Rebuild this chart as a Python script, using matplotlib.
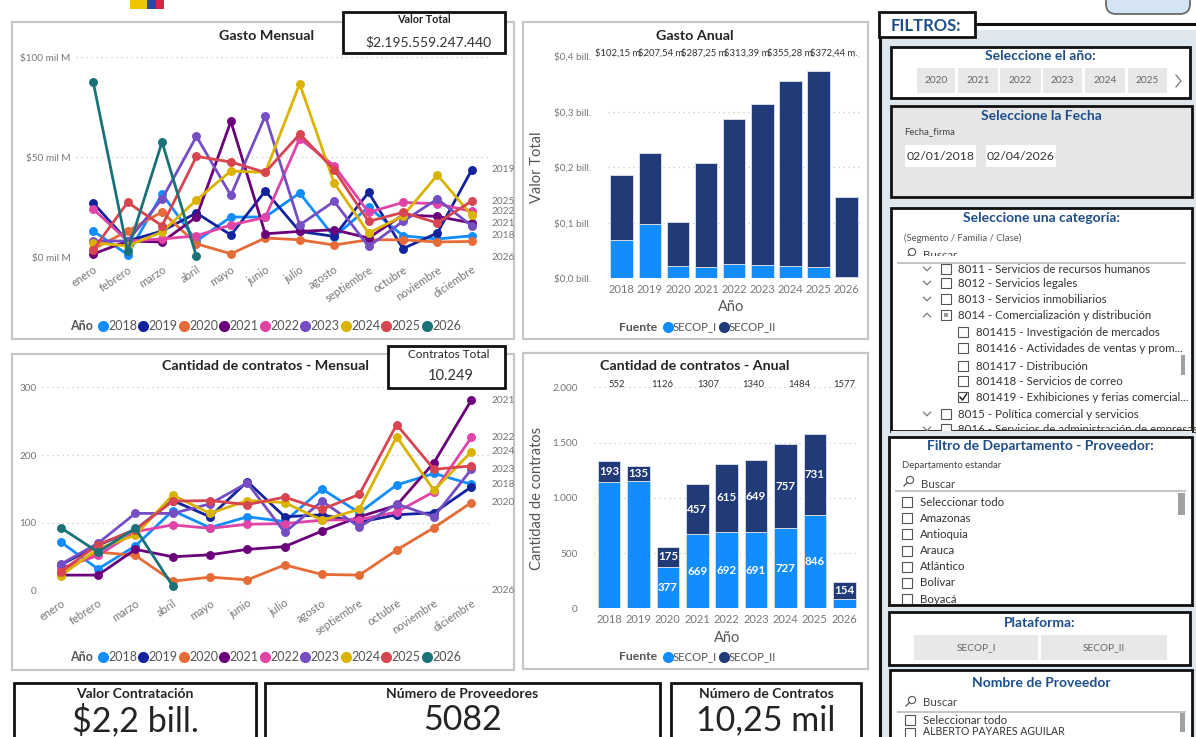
import numpy as np
import matplotlib
matplotlib.use('Agg')
import matplotlib.pyplot as plt
from matplotlib.patches import Rectangle, FancyBboxPatch, Circle

W, H = 1196, 737
plt.rcParams['font.family'] = ['Lato', 'DejaVu Sans']

# ---------------- data ----------------
meses = ['enero', 'febrero', 'marzo', 'abril', 'mayo', 'junio', 'julio',
         'agosto', 'septiembre', 'octubre', 'noviembre', 'diciembre']
anios = ['2018', '2019', '2020', '2021', '2022', '2023', '2024', '2025', '2026']
colores_anio = ['#118DFF', '#12239E', '#E66C37', '#6B007B', '#E044A7',
                '#744EC2', '#D9B300', '#D64550', '#197278']

# Gasto mensual (mil M)
gasto_2018 = [13, 1.2, 31.5, 8, 20, 20, 32, 10, 25, 10.6, 9, 10.6]
gasto_2019 = [27, 8, 13, 22, 11, 33, 12.8, 10.3, 32.3, 4.2, 12, 43.6]
gasto_2020 = [4, 13, 22.5, 6.6, 1.6, 9.5, 8.6, 6, 8.6, 8.6, 7.5, 7.8]
gasto_2021 = [1.5, 8, 7.5, 20, 67.8, 11.6, 12.8, 13.6, 9.5, 21, 20.3, 17]
gasto_2022 = [24, 8, 9, 10.6, 16, 19.8, 59.2, 45.6, 22.3, 27.3, 26.6, 22.8]
gasto_2023 = [8, 8, 29, 60.3, 30.8, 70.6, 16, 27.8, 5.3, 17.8, 29, 15.5]
gasto_2024 = [7, 5.6, 12.5, 28.5, 43, 42.3, 86.6, 37, 12, 20.5, 41, 20.8]
gasto_2025 = [3.6, 27.3, 15.6, 50.3, 47.5, 42.3, 61.5, 43.6, 17.8, 22.3, 17, 28]
gasto_2026 = [87.5, 2.8, 57.5, 0.3]
etiquetas_gasto = ['2019', '2025', '2022', '2021', '2018', '2026']

# Cantidad de contratos mensual
contratos_2018 = [72, 32, 66, 118, 93, 109, 102, 150, 115, 156, 173, 157]
contratos_2019 = [38, 67, 90, 133, 109, 161, 109, 112, 101, 112, 115, 153]
contratos_2020 = [28, 57, 52, 14, 20, 16, 38, 24, 23, 60, 93, 130]
contratos_2021 = [23, 23, 61, 50, 53, 61, 65, 88, 109, 126, 189, 281]
contratos_2022 = [33, 52, 87, 97, 92, 98, 99, 104, 105, 116, 146, 226]
contratos_2023 = [39, 70, 114, 114, 128, 159, 86, 132, 94, 128, 109, 179]
contratos_2024 = [22, 62, 82, 141, 114, 133, 130, 104, 120, 227, 148, 205]
contratos_2025 = [28, 68, 90, 132, 133, 127, 138, 120, 142, 245, 179, 184]
contratos_2026 = [93, 57, 92, 7]
etiquetas_contratos = ['2021', '2022', '2024', '2023', '2018', '2020', '2026']

# Anual por fuente
fuentes = ['SECOP_I', 'SECOP_II']
colores_fuente = ['#118DFF', '#213A78']
valor_secop_i = [69, 98, 23, 21, 26, 24, 23, 20, 2.5]            # mil M
valor_secop_ii = [117, 127, 79.15, 186.54, 261.25, 289.39, 332.28, 352.44, 143.5]
contratos_secop_i = [1140, 1155, 377, 669, 692, 691, 727, 846, 86]
contratos_secop_ii = [193, 135, 175, 457, 615, 649, 757, 731, 154]
anios_total_visible = ['2020', '2021', '2022', '2023', '2024', '2025']
anios_secop_i_etiqueta = ['2020', '2021', '2022', '2023', '2024', '2025']

# KPIs
valor_total_txt = '$2.195.559.247.440'
contratos_total_txt = '10.249'
kpi_titulos = ['Valor Contratación', 'Número de Proveedores', 'Número de Contratos']
kpi_valores = ['$2,2 bill.', '5082', '10,25 mil']

# ---------------- figure ----------------
fig = plt.figure(figsize=(W / 100, H / 100), dpi=100)
fig.patch.set_facecolor('white')

def overlay(z):
    a = fig.add_axes([0, 0, 1, 1], zorder=z)
    a.set_xlim(0, W)
    a.set_ylim(H, 0)
    a.axis('off')
    a.patch.set_alpha(0)
    return a

bg = overlay(0)
fg = overlay(10)

def rect(ax, x0, y0, x1, y1, fc='none', ec='none', lw=0, z=1, **kw):
    p = Rectangle((x0, y0), x1 - x0, y1 - y0, facecolor=fc, edgecolor=ec,
                  linewidth=lw, zorder=z, **kw)
    ax.add_patch(p)
    return p

def txt(ax, x, y, s, size=8, color='#333333', weight='normal', ha='left',
        va='center', z=3, **kw):
    return ax.text(x, y, s, fontsize=size, color=color, fontweight=weight,
                   ha=ha, va=va, zorder=z, **kw)

def axes_px(x0, y0, x1, y1):
    a = fig.add_axes([x0 / W, 1 - y1 / H, (x1 - x0) / W, (y1 - y0) / H], zorder=2)
    a.patch.set_alpha(0)
    for s in a.spines.values():
        s.set_visible(False)
    a.tick_params(length=0)
    return a

GRID = '#C8C8C8'
TICK = '#777777'
TITLE = '#252423'
BLUE_T = '#1D4E89'

# panel frames
for (x0, y0, x1, y1) in [(12, 22, 514, 339), (523, 22, 868, 339),
                         (12, 354, 514, 670), (523, 353, 868, 669)]:
    rect(bg, x0, y0, x1, y1, fc='white', ec='#C6C6C6', lw=1.6)

# small decorations at top
rect(bg, 130, -2, 147, 9, fc='#F2C500')
rect(bg, 147, -2, 156, 9, fc='#2A4B9B')
rect(bg, 156, -2, 164, 9, fc='#D7263D')
bg.add_patch(FancyBboxPatch((1106, -14), 84, 28, boxstyle='round,pad=0,rounding_size=10',
                            facecolor='#D5E5F5', edgecolor='#6A6A6A', lw=1.3, zorder=2))

# ---------------- line charts ----------------
def line_chart(ax, series, ymax, yticks, ytlabels, etiquetas, x0, x1):
    for vals, col in zip(series, colores_anio):
        x = np.arange(len(vals))
        ax.plot(x, vals, color=col, lw=2.0, marker='o', ms=5.4, clip_on=False,
                solid_joinstyle='round', zorder=3)
    ax.set_xlim(-0.5, 11.5)
    ax.set_ylim(0, ymax)
    for t in yticks:
        ax.axhline(t, color=GRID, lw=0.9, ls=(0, (1, 3)), zorder=0)
    ax.set_yticks(yticks)
    ax.set_yticklabels(ytlabels, fontsize=7.2, color=TICK)
    ax.set_xticks(range(12))
    ax.set_xticklabels(meses, rotation=34, ha='right', rotation_mode='anchor',
                       fontsize=8, color=TICK)
    ax.tick_params(axis='x', pad=5)
    ax.tick_params(axis='y', pad=4)
    xf = (492 - x0) / (x1 - x0)
    tr = ax.get_yaxis_transform()
    for yr in etiquetas:
        vals = series[anios.index(yr)]
        yv = vals[-1] if len(vals) == 12 else 0
        ax.text(xf, yv, yr, transform=tr, fontsize=7.3, color=TICK, ha='left',
                va='center', clip_on=False)

def line_legend(y):
    txt(bg, 70, y, 'Año', size=9, color='#555555', weight='bold')
    for i, (yr, col) in enumerate(zip(anios, colores_anio)):
        xm = 102.5 + i * 40.5
        bg.plot([xm], [y], marker='o', ms=7, color=col, zorder=3)
        txt(bg, xm + 5.5, y, yr, size=9, color='#555555')

gm_x0, gm_x1 = 76, 489
ax1 = axes_px(gm_x0, 57, gm_x1, 257)
line_chart(ax1, [gasto_2018, gasto_2019, gasto_2020, gasto_2021, gasto_2022,
                 gasto_2023, gasto_2024, gasto_2025, gasto_2026],
           100, [0, 50, 100], ['$0 mil M', '$50 mil M', '$100 mil M'],
           etiquetas_gasto, gm_x0, gm_x1)
txt(bg, 267, 36, 'Gasto Mensual', size=10.3, color=TITLE, weight='bold', ha='center')
line_legend(326)

cm_x0, cm_x1 = 42, 490
ax3 = axes_px(cm_x0, 387.3, cm_x1, 590.7)
line_chart(ax3, [contratos_2018, contratos_2019, contratos_2020, contratos_2021,
                 contratos_2022, contratos_2023, contratos_2024, contratos_2025,
                 contratos_2026],
           300, [0, 100, 200, 300], ['0', '100', '200', '300'],
           etiquetas_contratos, cm_x0, cm_x1)
txt(bg, 265, 366, 'Cantidad de contratos - Mensual', size=10.3, color=TITLE,
    weight='bold', ha='center')
line_legend(657)

# ---------------- bar charts ----------------
def bar_chart(ax, s1, s2, ymax, yticks, ytlabels, width, ypad):
    x = np.arange(len(anios))
    ax.bar(x, s1, width=width, color=colores_fuente[0], edgecolor='#D3DAE6',
           lw=0.7, zorder=2)
    ax.bar(x, s2, bottom=s1, width=width, color=colores_fuente[1],
           edgecolor='#D3DAE6', lw=0.7, zorder=2)
    ax.set_xlim(-0.5, len(anios) - 0.5)
    ax.set_ylim(0, ymax)
    for t in yticks:
        ax.axhline(t, color=GRID, lw=0.9, ls=(0, (1, 3)), zorder=0)
    ax.set_yticks(yticks)
    ax.set_yticklabels(ytlabels, fontsize=7.2, color=TICK)
    ax.set_xticks(x)
    ax.set_xticklabels(anios, fontsize=8, color=TICK)
    ax.tick_params(axis='x', pad=4)
    ax.tick_params(axis='y', pad=ypad)

def fuente_legend(y):
    txt(bg, 619, y, 'Fuente', size=8.8, color='#555555', weight='bold')
    for xm, f, c in zip([668, 724], fuentes, colores_fuente):
        bg.plot([xm], [y], marker='o', ms=7, color=c, zorder=3)
        txt(bg, xm + 5, y, f, size=8.2, color='#555555')

# Gasto anual
ga_x0, ga_x1 = 607.6, 860.8
ax2 = axes_px(ga_x0, 56, ga_x1, 278.3)
bar_chart(ax2, valor_secop_i, valor_secop_ii, 400, [0, 100, 200, 300, 400],
          ['$0,0 bill.', '$0,1 bill.', '$0,2 bill.', '$0,3 bill.', '$0,4 bill.'],
          0.8, 12)
tot_valor = [a + b for a, b in zip(valor_secop_i, valor_secop_ii)]
vis = [anios.index(a) for a in anios_total_visible]
for k, i in enumerate(vis):
    xf = np.linspace(0.045, 0.895, len(vis))[k]
    s = '$' + f'{tot_valor[i]:.2f}'.replace('.', ',') + ' m.'
    ax2.text(xf, 1.014, s, transform=ax2.transAxes, fontsize=6.8, color='#333333',
             ha='center', va='center', clip_on=False)
txt(bg, 695, 36, 'Gasto Anual', size=10.3, color=TITLE, weight='bold', ha='center')
txt(bg, 537, 167, 'Valor Total', size=10.5, color='#555555', ha='center', rotation=90)
txt(bg, 731, 307, 'Año', size=10.5, color='#555555', ha='center')
fuente_legend(327)

# Contratos anual
ca_x0, ca_x1 = 594.3, 859
ax4 = axes_px(ca_x0, 387.3, ca_x1, 608.3)
bar_chart(ax4, contratos_secop_i, contratos_secop_ii, 2000,
          [0, 500, 1000, 1500, 2000], ['0', '500', '1.000', '1.500', '2.000'],
          0.77, 12)
tot_c = [a + b for a, b in zip(contratos_secop_i, contratos_secop_ii)]
for k, i in enumerate(vis):
    xf = np.linspace(0.085, 0.945, len(vis))[k]
    ax4.text(xf, 1.014, f'{tot_c[i]}', transform=ax4.transAxes, fontsize=6.8,
             color='#333333', ha='center', va='center', clip_on=False)
for i in range(len(anios)):
    ax4.text(i, contratos_secop_i[i] + contratos_secop_ii[i] / 2,
             f'{contratos_secop_ii[i]}', ha='center', va='center', fontsize=8.3,
             fontweight='bold', color='white', zorder=4)
    if anios[i] in anios_secop_i_etiqueta:
        ax4.text(i, contratos_secop_i[i] / 2, f'{contratos_secop_i[i]}',
                 ha='center', va='center', fontsize=8.3, fontweight='bold',
                 color='white', zorder=4)
txt(bg, 695, 366, 'Cantidad de contratos - Anual', size=10.3, color=TITLE,
    weight='bold', ha='center')
txt(bg, 537, 498, 'Cantidad de contratos', size=10.5, color='#555555', ha='center',
    rotation=90)
txt(bg, 727, 638, 'Año', size=10.5, color='#555555', ha='center')
fuente_legend(657)

# ---------------- KPI cards ----------------
rect(fg, 343, 12, 505, 53, fc='white', ec='#111111', lw=2)
txt(fg, 424, 19, 'Valor Total', size=7.8, color='#252423', weight='bold', ha='center', z=11)
txt(fg, 428, 42, valor_total_txt, size=10, color='#333333', ha='center', z=11)

rect(fg, 388, 346, 505, 388, fc='white', ec='#111111', lw=2)
txt(fg, 449, 354, 'Contratos Total', size=8.5, color='#252423', ha='center', z=11)
txt(fg, 451, 376, contratos_total_txt, size=10.5, color='#333333', ha='center', z=11)

for (x0, x1), t, v in zip([(14, 256), (265, 660), (671, 861)], kpi_titulos, kpi_valores):
    rect(bg, x0, 683, x1, 745, fc='white', ec='#111111', lw=2)
    txt(bg, (x0 + x1) / 2, 694, t, size=10, color='#252423', weight='bold', ha='center')
    txt(bg, (x0 + x1) / 2, 720.5, v, size=24.5, color='#252423', weight='normal',
        ha='center')

# ---------------- filter panel ----------------
rect(bg, 881, 30, W + 2, H + 2, fc='#DEE6EE')
bg.plot([880, 880], [37, H + 2], color='#111111', lw=2.2, zorder=4)
bg.plot([975, W + 2], [24, 24], color='#111111', lw=2.2, zorder=4)
rect(bg, 879, 12, 975, 37, fc='white', ec='#111111', lw=2, z=4)
txt(bg, 891, 26, 'FILTROS:', size=12, color=BLUE_T, weight='bold', z=5)

def filt_box(x0, y0, x1, y1, title, ty, fc='white'):
    rect(bg, x0, y0, x1, y1, fc=fc, ec='#111111', lw=2, z=2)
    txt(bg, (x0 + x1) / 2, ty, title, size=10, color=BLUE_T, weight='bold', ha='center')

def checkbox(x, y, state=0):
    rect(bg, x, y - 5, x + 10, y + 5, fc='white', ec='#555555', lw=0.8, z=3)
    if state == 1:
        bg.plot([x + 2, x + 4.5, x + 8.5], [y, y + 3, y - 3], color='#222222', lw=1.1, zorder=4)
    if state == 2:
        rect(bg, x + 3, y - 2, x + 7, y + 2, fc='#9A9A9A', z=4)

def chevron(x, y, up=False):
    d = -1 if up else 1
    bg.plot([x - 3.5, x, x + 3.5], [y - 1.8 * d, y + 1.8 * d, y - 1.8 * d],
            color='#777777', lw=0.9, zorder=4)

def search(x, y):
    bg.add_patch(Circle((x + 2, y - 2), 3.6, fill=False, ec='#555555', lw=0.8, zorder=4))
    bg.plot([x - 0.6, x - 4], [y + 0.6, y + 4], color='#555555', lw=0.9, zorder=4)

# year slicer
filt_box(891, 47, 1190, 98, 'Seleccione el año:', 56)
for (bx0, bx1), yr in zip([(917, 955), (958, 998), (1000, 1041), (1043, 1082),
                           (1085, 1125), (1128, 1167)], anios[2:8]):
    rect(bg, bx0, 68, bx1, 93, fc='#E8E8E8', z=3)
    txt(bg, (bx0 + bx1) / 2, 80.5, yr, size=7.3, color='#666666', ha='center')
bg.plot([1176, 1181, 1176], [75, 81, 87], color='#777777', lw=0.9, zorder=4)

# date slicer
filt_box(891, 106, 1192, 197, 'Seleccione la Fecha', 116, fc='#E6E6E6')
txt(bg, 904, 132, 'Fecha_firma', size=6.8, color='#444444')
for (bx0, bx1), d in zip([(905, 976), (986, 1056)], ['02/01/2018', '02/04/2026']):
    rect(bg, bx0, 145, bx1, 167, fc='white', z=3)
    txt(bg, (bx0 + bx1) / 2, 156, d, size=8.8, color='#333333', ha='center')

# category slicer
filt_box(891, 208, 1192, 431, 'Seleccione una categoría:', 218)
txt(bg, 904, 238, '(Segmento / Familia / Clase)', size=6.8, color='#555555')
search(910, 254)
txt(bg, 923, 255, 'Buscar', size=8.3, color='#444444')
clip_cat = rect(bg, 893, 263, 1190, 430, fc='none', z=0)
cat_items = [
    (269, 0, '8011 - Servicios de recursos humanos', 'd', 0),
    (283, 0, '8012 - Servicios legales', 'd', 0),
    (299, 0, '8013 - Servicios inmobiliarios', 'd', 0),
    (315, 0, '8014 - Comercialización y distribución', 'u', 2),
    (332, 1, '801415 - Investigación de mercados', None, 0),
    (348, 1, '801416 - Actividades de ventas y prom...', None, 0),
    (366, 1, '801417 - Distribución', None, 0),
    (381, 1, '801418 - Servicios de correo', None, 0),
    (397, 1, '801419 - Exhibiciones y ferias comercial...', None, 1),
    (414, 0, '8015 - Política comercial y servicios', 'd', 0),
    (429, 0, '8016 - Servicios de administración de empresas', 'd', 0),
]
for y, lvl, s, chev, st in cat_items:
    if lvl == 0:
        cx, tx = 941, 958
        if chev:
            chevron(927, y, up=(chev == 'u'))
    else:
        cx, tx = 958, 976
    checkbox(cx, y, st)
    t = txt(bg, tx, y, s, size=8.3, color='#333333')
    t.set_clip_path(clip_cat)
rect(bg, 893, 256, 1190, 263, fc='white', z=5)
bg.plot([898, 1185], [263, 263], color='#C0C0C0', lw=1.3, zorder=6)
rect(bg, 1181, 355, 1185, 375, fc='#A0A0A0', z=6)
rect(bg, 891, 431, 1192, 436, fc='#DEE6EE', z=6)

# department slicer
filt_box(889, 437, 1192, 605, 'Filtro de Departamento - Proveedor:', 446)
txt(bg, 902, 465, 'Departamento estandar', size=6.8, color='#444444')
search(908, 482)
txt(bg, 921, 484, 'Buscar', size=8.3, color='#444444')
bg.plot([896, 1185], [491, 491], color='#C0C0C0', lw=1.3, zorder=5)
clip_dep = rect(bg, 891, 492, 1190, 603, fc='none', z=0)
deps = ['Seleccionar todo', 'Amazonas', 'Antioquia', 'Arauca', 'Atlántico', 'Bolívar', 'Boyacá']
for k, d in enumerate(deps):
    y = 502 + k * 16.2
    checkbox(902, y)
    t = txt(bg, 920, y, d, size=8.3, color='#333333')
    t.set_clip_path(clip_dep)
rect(bg, 889, 604, 1192, 611, fc='#DEE6EE', z=6)
bg.plot([889, 1192], [605, 605], color='#111111', lw=2, zorder=7)
rect(bg, 1178, 493, 1185, 515, fc='#A0A0A0', z=6)

# platform slicer
filt_box(889, 612, 1190, 665, 'Plataforma:', 623)
for (bx0, bx1), f in zip([(914, 1038), (1041, 1167)], fuentes):
    rect(bg, bx0, 635, bx1, 660, fc='#E8E8E8', z=3)
    txt(bg, (bx0 + bx1) / 2, 648, f, size=7.3, color='#666666', ha='center')

# provider slicer
filt_box(890, 670, 1192, 760, 'Nombre de Proveedor', 683)
search(910, 702)
txt(bg, 923, 703, 'Buscar', size=8.3, color='#444444')
bg.plot([898, 1185], [712, 712], color='#C0C0C0', lw=1.3, zorder=5)
checkbox(905, 720)
txt(bg, 923, 720, 'Seleccionar todo', size=8.3, color='#333333')
checkbox(905, 733)
txt(bg, 923, 731.5, 'ALBERTO PAYARES AGUILAR', size=7.6, color='#333333')
rect(bg, 1180, 713, 1185, 732, fc='#A0A0A0', z=6)

fig.savefig('out.png', dpi=100, facecolor='white')
